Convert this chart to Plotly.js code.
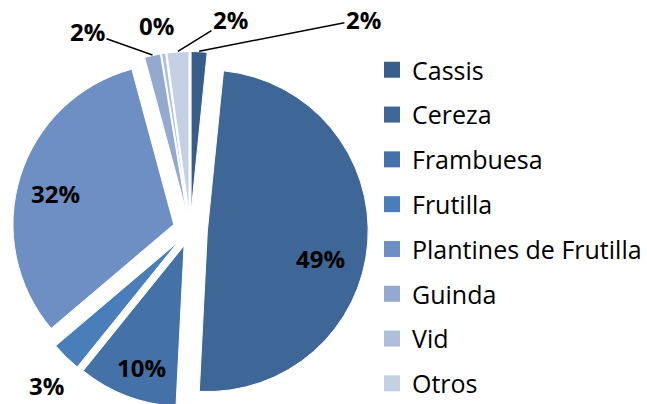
<!DOCTYPE html>
<html>
<head>
<meta charset="utf-8">
<script src="https://cdn.plot.ly/plotly-3.0.1.min.js"></script>
<style>html,body{margin:0;padding:0;background:#fff;overflow:hidden;width:647px;height:404px;}#chart{width:647px;height:412px;}</style>
</head>
<body>
<div id="chart"></div>
<script>
var categories = ["Cassis", "Cereza", "Frambuesa", "Frutilla", "Plantines de Frutilla", "Guinda", "Vid", "Otros"];
var shares = [1.6, 49.2, 10.0, 3.0, 32.0, 1.6, 0.4, 2.2];
var colors = ["#385D8A", "#3E6696", "#4471A7", "#4A7EBB", "#6D8FC4", "#93A9CF", "#AFBEDA", "#C6D0E4"];

// label layout (pixel centres of each percent label, and whether it has a leader line)
var labelPos = [[364, 19], [321, 258], [142, 367], [47, 385], [56, 193], [88, 32], [157, 26], [231, 19]];
var labelLine = [true, false, false, false, false, true, false, true];

var W = 647, H = 412;
var FONT = "Open Sans, Lato, sans-serif";
var PIE = {cx: 190.8, cy: 229.5, r: 161.3, pull: 0.107};
var half = PIE.r * (1 + PIE.pull);

var total = shares.reduce(function(a, b){ return a + b; }, 0);

var traces = [{
  type: "pie",
  labels: categories,
  values: shares,
  sort: false,
  direction: "clockwise",
  rotation: 0,
  pull: categories.map(function(){ return PIE.pull; }),
  marker: {colors: colors, line: {color: "#ffffff", width: 1}},
  textinfo: "none",
  showlegend: false,
  hoverinfo: "label+percent",
  domain: {
    x: [(PIE.cx - half) / W, (PIE.cx + half) / W],
    y: [1 - (PIE.cy + half) / H, 1 - (PIE.cy - half) / H]
  }
}];

categories.forEach(function(name, i){
  traces.push({
    type: "scatter",
    mode: "markers",
    x: [null], y: [null],
    name: name,
    legendgroup: "g" + i,
    marker: {symbol: "square", size: 16, color: colors[i], line: {width: 0}},
    showlegend: true,
    hoverinfo: "skip"
  });
});

// percent labels derived from the shares
var annotations = [];
var cum = 0;
shares.forEach(function(v, i){
  var mid = 2 * Math.PI * (cum + v / 2) / total;
  cum += v;
  var txt = Math.round(v / total * 100 + 1e-9) + "%";
  var lp = labelPos[i];
  var a = {
    text: txt,
    xref: "paper", yref: "paper",
    font: {family: FONT, size: 24, color: "#000000", weight: "bold"},
    xanchor: "center", yanchor: "middle"
  };
  if (labelLine[i]) {
    var tx = PIE.cx + half * Math.sin(mid);
    var ty = PIE.cy - half * Math.cos(mid);
    a.x = tx / W; a.y = 1 - ty / H;
    a.showarrow = true;
    a.ax = lp[0] - tx; a.ay = lp[1] - ty;
    a.arrowhead = 0; a.arrowwidth = 1.5; a.arrowcolor = "#000000";
    a.standoff = 0; a.startstandoff = 0;
  } else {
    a.x = lp[0] / W; a.y = 1 - lp[1] / H;
    a.showarrow = false;
  }
  annotations.push(a);
});

var layout = {
  width: W,
  height: H,
  margin: {l: 0, r: 0, t: 0, b: 0},
  paper_bgcolor: "#ffffff",
  plot_bgcolor: "#ffffff",
  xaxis: {visible: false},
  yaxis: {visible: false},
  showlegend: true,
  annotations: annotations,
  legend: {
    x: 0.577, y: 1 - 47 / H, xanchor: "left", yanchor: "top",
    font: {family: FONT, size: 25, color: "#000000"},
    tracegroupgap: 9.3,
    traceorder: "grouped",
    itemclick: false, itemdoubleclick: false
  }
};

Plotly.newPlot("chart", traces, layout, {displayModeBar: false, staticPlot: true});
</script>
</body>
</html>
